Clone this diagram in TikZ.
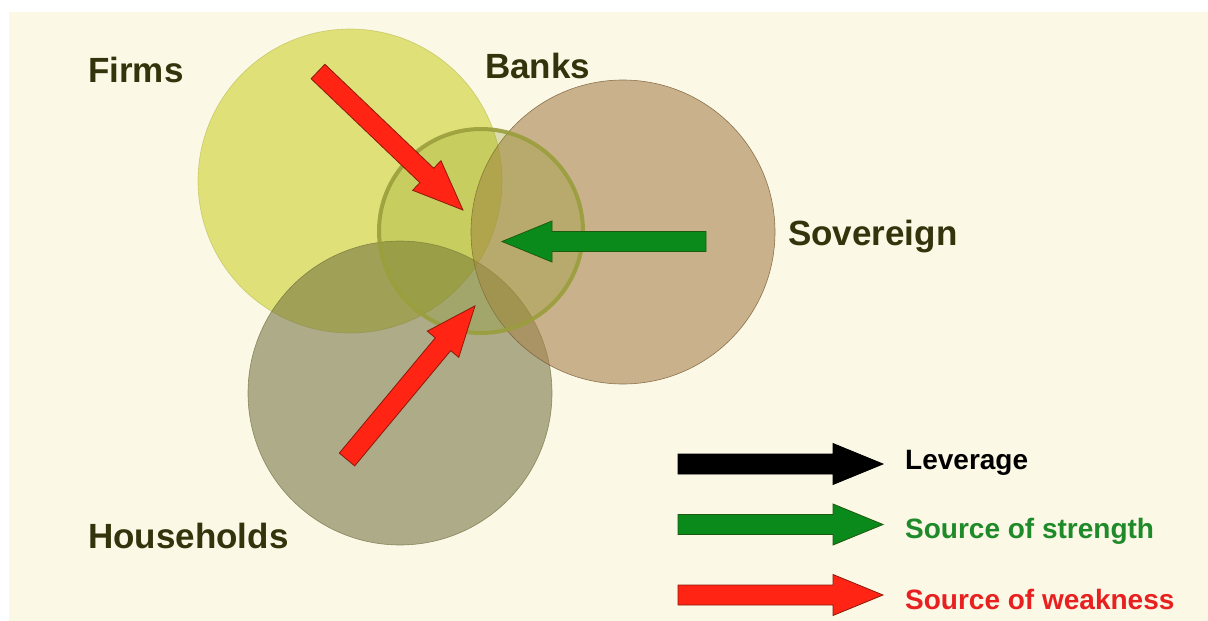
\documentclass[tikz,border=0pt]{standalone}
\usepackage{fontspec}
\setmainfont{Liberation Sans}
\definecolor{cream}{HTML}{FBF8E5}
\definecolor{firmsc}{HTML}{D4D84A}
\definecolor{sovc}{HTML}{A9834F}
\definecolor{housec}{HTML}{6E6C3C}
\definecolor{bankc}{HTML}{8C9A20}
\definecolor{bankedge}{HTML}{9A9E3C}
\definecolor{labelc}{HTML}{33330C}
\definecolor{redfill}{HTML}{FF2414}
\definecolor{redline}{HTML}{8B1A0A}
\definecolor{greenfill}{HTML}{0B8A1C}
\definecolor{greenline}{HTML}{1D5A10}
\definecolor{greentext}{HTML}{1E8A2A}
\definecolor{redtext}{HTML}{E82020}
\newcommand{\blockarr}[5]{%
  \begin{scope}[shift={#1}, rotate=#2]
    \filldraw[fill=#4, draw=#5, line width=0.8pt, line join=miter]
      (0,10) -- ({#3-50},10) -- ({#3-50},20.5) -- (#3,0) -- ({#3-50},-20.5) -- ({#3-50},-10) -- (0,-10) -- cycle;
  \end{scope}}
\begin{document}
\begin{tikzpicture}[x=1pt, y=-1pt,
  biglabel/.style={text=labelc, font=\bfseries\fontsize{35}{40}\selectfont, anchor=base west, inner sep=0pt},
  legendlabel/.style={font=\bfseries\fontsize{28}{32}\selectfont, anchor=base west, inner sep=0pt}]
\useasboundingbox (0,0) rectangle (1208,621);
\fill[white] (0,0) rectangle (1208,621);
\fill[cream] (9,12) rectangle (1208,621);
% circles
\filldraw[fill=firmsc, fill opacity=0.7, draw=firmsc!80!black, draw opacity=0.5, line width=0.6pt] (350,181) circle (152);
\filldraw[fill=housec, fill opacity=0.55, draw=housec, draw opacity=0.7, line width=0.6pt] (400,393) circle (152);
\filldraw[fill=sovc, fill opacity=0.6, draw=sovc!70!black, draw opacity=0.8, line width=0.6pt] (623,232) circle (152);
\filldraw[fill=bankc, fill opacity=0.28, draw=bankedge, draw opacity=0.9, line width=4pt] (481,231) circle (102);
% arrows
\blockarr{(318,71.5)}{-43.7}{200.5}{redfill}{redline}
\blockarr{(347,459.5)}{50.2}{200}{redfill}{redline}
\blockarr{(706,241.5)}{180}{204}{greenfill}{greenline}
% labels
\node[biglabel] (firms) at (88,82) {Firms};
\node[biglabel] (banks) at (485,78) {Banks};
\node[biglabel] (sov) at (788,245) {Sovereign};
\node[biglabel] (house) at (88,548) {Households};
% legend
\blockarr{(678,464)}{0}{205}{black}{black}
\blockarr{(678,524.5)}{0}{205}{greenfill}{greenline}
\blockarr{(678,595)}{0}{205}{redfill}{redline}
\node[legendlabel, text=black] (lev) at (905,469) {Leverage};
\node[legendlabel, text=greentext] (str) at (905,538) {Source of strength};
\node[legendlabel, text=redtext] (weak) at (905,609) {Source of weakness};
\end{tikzpicture}
\end{document}
